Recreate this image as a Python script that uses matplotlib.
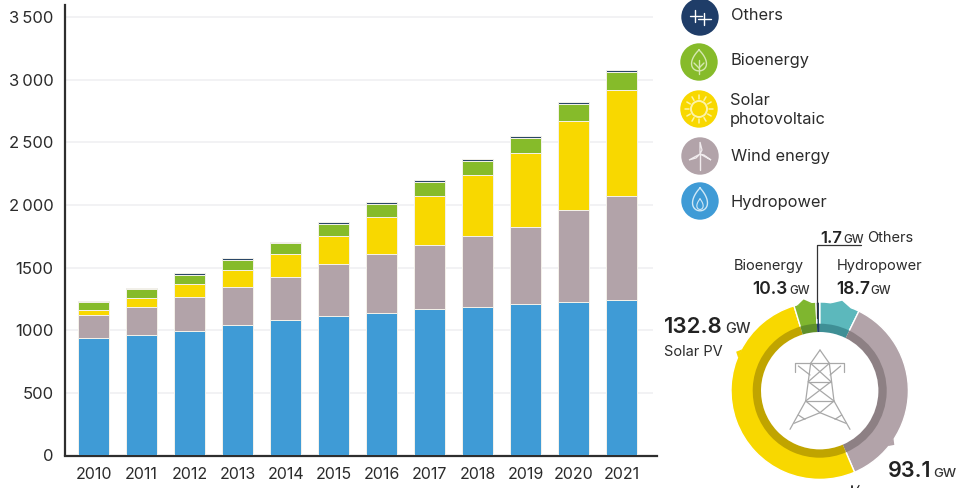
"""
Global renewable capacity by technology, 2010-2021, with 2021 additions ring.
Saves to out.png.
"""

import numpy as np
import matplotlib
matplotlib.use("Agg")
import matplotlib.pyplot as plt
from matplotlib.patches import Circle, Polygon, Wedge

plt.rcParams["font.family"] = ["Inter", "DejaVu Sans"]

# ── Data ──────────────────────────────────────────────────────────────────────

years = ["2010", "2011", "2012", "2013", "2014", "2015",
         "2016", "2017", "2018", "2019", "2020", "2021"]

hydro = [937, 963, 995, 1041, 1078, 1110, 1140, 1165, 1185, 1205, 1225, 1240]
wind  = [181, 221, 267, 300, 349, 418, 467, 515, 567, 621, 731, 831]
solar = [43, 70, 104, 136, 181, 224, 296, 391, 484, 588, 716, 847]
bio   = [63, 74, 72, 85, 85, 93, 106, 109, 117, 120, 131, 141]
other = [8, 8, 18, 16, 13, 16, 17, 16, 16, 19, 19, 21]

y_ticks  = [0, 500, 1000, 1500, 2000, 2500, 3000, 3500]
y_labels = ["0", "500", "1000", "1500", "2\u2009000", "2\u2009500", "3\u2009000", "3\u2009500"]

ring_names  = ["Hydropower", "Wind energy", "Solar PV", "Bioenergy", "Others"]
ring_values = [18.7, 93.1, 132.8, 10.3, 1.7]

# ── Colours ───────────────────────────────────────────────────────────────────

C_HYDRO = "#3f9bd6"
C_WIND  = "#b2a3a9"
C_SOLAR = "#f8d800"
C_BIO   = "#86bb2a"
C_OTHER = "#2a4768"
C_TEXT  = "#2b2b2b"

RING_OUTER = ["#5cb8bc", C_WIND, C_SOLAR, "#7fb62f", C_OTHER]
RING_INNER = ["#3f8f95", "#8d8084", "#c0a400", "#5f8f2a", "#1f3d68"]

W, H = 964, 488

fig = plt.figure(figsize=(W / 100, H / 100), dpi=100, facecolor="white")

# ── Stacked bars ──────────────────────────────────────────────────────────────

AX_L, AX_R, AX_T, AX_B = 64.5, 657.5, 5, 455.3
ax = fig.add_axes([AX_L / W, 1 - AX_B / H, (AX_R - AX_L) / W, (AX_B - AX_T) / H])
ax.set_xlim(-0.608, 11.75)
ax.set_ylim(0, 3597)

x = np.arange(len(years))
bottom = np.zeros(len(years))
for vals, col in [(hydro, C_HYDRO), (wind, C_WIND), (solar, C_SOLAR), (bio, C_BIO), (other, C_OTHER)]:
    ax.bar(x, vals, bottom=bottom, width=0.64, color=col, edgecolor="#f4f2ea",
           linewidth=0.7, zorder=3)
    bottom += np.array(vals)

ax.hlines(y_ticks[1:], -0.57, 11.65, color="#efeff1", linewidth=1.1, zorder=0)

ax.set_yticks(y_ticks)
ax.set_yticklabels(y_labels)
ax.set_xticks(x)
ax.set_xticklabels(years)
ax.tick_params(axis="both", length=0, labelcolor=C_TEXT)
ax.tick_params(axis="y", pad=8, labelsize=12)
ax.tick_params(axis="x", pad=8, labelsize=11.5)
for s in ["top", "right"]:
    ax.spines[s].set_visible(False)
for s in ["left", "bottom"]:
    ax.spines[s].set_color("#2e2e2e")
    ax.spines[s].set_linewidth(1.6)
ax.spines["bottom"].set_position(("outward", 0.5))

# ── Overlay in pixel coordinates for legend and ring ─────────────────────────

ov = fig.add_axes([0, 0, 1, 1], facecolor="none")
ov.set_xlim(0, W)
ov.set_ylim(H, 0)
ov.axis("off")


def seg(xs, ys, color="white", lw=1.0, z=6):
    ov.plot(xs, ys, color=color, lw=lw, solid_capstyle="round", zorder=z)


def icon_others(cx, cy):
    seg([cx - 10, cx + 2], [cy - 1, cy - 1])
    seg([cx - 5, cx - 5], [cy - 7, cy + 5])
    seg([cx - 2, cx + 11], [cy + 2, cy + 2])
    seg([cx + 4, cx + 4], [cy - 4, cy + 8])


def icon_leaf(cx, cy):
    t = np.linspace(0, 2 * np.pi, 80)
    ov.plot(cx + 9.5 * np.sin(t) * np.sin(t / 2) ** 0.9,
            cy - 12 + 22 * np.sin(t / 2) ** 2 * 0.95,
            color="#d5e8b0", lw=1, zorder=6)
    seg([cx, cx], [cy - 2, cy + 12], "#d5e8b0")
    seg([cx - 5, cx], [cy + 1, cy + 6], "#d5e8b0")
    seg([cx + 5, cx], [cy + 1, cy + 6], "#d5e8b0")


def icon_sun(cx, cy):
    ov.add_patch(Circle((cx, cy), 8, fc="none", ec="#fdf3a8", lw=1.4, zorder=6))
    for a in np.arange(0, 360, 30):
        r = np.radians(a)
        seg([cx + 10 * np.cos(r), cx + 14 * np.cos(r)],
            [cy + 10 * np.sin(r), cy + 14 * np.sin(r)], "#fdf3a8", 1.1)


def icon_wind(cx, cy):
    hub = (cx, cy - 2)
    seg([hub[0], hub[0]], [hub[1], cy + 14], "#f1ecee")
    for tip, side in [((cx, cy - 14), (cx + 2, cy - 6)),
                      ((cx - 11, cy + 4), (cx - 4, cy + 2)),
                      ((cx + 11, cy + 4), (cx + 4, cy - 1))]:
        ov.add_patch(Polygon([hub, side, tip], closed=True, fc="none",
                             ec="#f1ecee", lw=0.9, zorder=6))


def icon_drop(cx, cy):
    t = np.linspace(0, 2 * np.pi, 80)
    ov.plot(cx + 9.5 * np.sin(t) * np.sin(t / 2) ** 0.9,
            cy - 13 + 24 * np.sin(t / 2) ** 2 * 0.95,
            color="#cfe8f6", lw=1, zorder=6)
    ov.plot(cx + 4 * np.sin(t) * np.sin(t / 2) ** 0.9,
            cy - 2 + 11 * np.sin(t / 2) ** 2 * 0.95,
            color="#cfe8f6", lw=0.8, zorder=6)


legend_rows = [
    (700, 17, C_OTHER, "Others", 731, 15, icon_others),
    (699, 62, C_BIO, "Bioenergy", 730, 61, icon_leaf),
    (699, 109, C_SOLAR, "Solar\nphotovoltaic", 730, 110, icon_sun),
    (700, 156, C_WIND, "Wind energy", 731, 157, icon_wind),
    (700, 201, C_HYDRO, "Hydropower", 731, 202, icon_drop),
]
for cx, cy, col, name, tx, ty, icon in legend_rows:
    disc = "#1f3d68" if col == C_OTHER else col
    ov.add_patch(Circle((cx, cy), 18.7, fc=disc, ec="none", zorder=5))
    icon(cx, cy)
    ov.text(tx, ty, name, fontsize=11.8, color=C_TEXT, va="center", ha="left", linespacing=1.3)

# ring drawn clockwise from twelve o'clock in GW shares
RX, RY = 819.7, 390.7
R_OUT, R_MID, R_IN = 88.7, 67, 58.7
total = sum(ring_values)
ang = 0.0
for name, v, c_o, c_i in zip(ring_names, ring_values, RING_OUTER, RING_INNER):
    sweep = v / total * 360
    # y axis is flipped here, so Wedge angles run clockwise from +x
    th1, th2 = ang - 90, ang + sweep - 90
    ov.add_patch(Wedge((RX, RY), R_OUT, th1, th2, width=R_OUT - R_IN, fc=c_o,
                       ec="white", lw=1.0, zorder=4))
    ov.add_patch(Wedge((RX, RY), R_MID, th1, th2, width=R_MID - R_IN, fc=c_i,
                       ec="none", zorder=4.5))
    ang += sweep

# small flares around the outer edge of the ring
for a_deg, col, half, rise in [(295, C_SOLAR, 5, 3.5), (126, C_WIND, 5, 3.5),
                               (350, "#7fb62f", 8, 4), (14, "#5cb8bc", 11, 4)]:
    a = np.radians(a_deg)
    d = half / R_OUT
    ux = lambda b, r: RX + r * np.sin(b)
    uy = lambda b, r: RY - r * np.cos(b)
    ov.add_patch(Polygon([(ux(a - d, R_OUT - 1), uy(a - d, R_OUT - 1)),
                          (ux(a, R_OUT + rise), uy(a, R_OUT + rise)),
                          (ux(a + d, R_OUT - 1), uy(a + d, R_OUT - 1))],
                         closed=True, fc=col, ec="none", zorder=4))

# transmission tower in the centre of the ring, laid out on a 300 unit box
TW = "#a8a8a8"
tower = [
    [(150, 30), (122, 70), (107, 183), (60, 268)],
    [(150, 30), (178, 70), (192, 183), (240, 268)],
    [(75, 97), (75, 70), (222, 70), (222, 97)],
    [(85, 78), (120, 105)], [(212, 78), (180, 105)],
    [(122, 70), (183, 125)], [(178, 70), (115, 125)],
    [(115, 125), (183, 125)], [(115, 125), (192, 183)], [(183, 125), (107, 183)],
    [(107, 183), (192, 183)], [(107, 183), (150, 218)], [(192, 183), (150, 218)],
    [(150, 218), (72, 250)], [(150, 218), (228, 250)],
    [(85, 225), (105, 238)], [(215, 225), (195, 238)],
]
for path in tower:
    pts = np.array(path) / 3
    seg(770 + pts[:, 0], 340 + pts[:, 1], TW, 0.9, 6)

# connector from the thin Others slice up to its label
seg([817.4, 817.4, 861], [318, 245, 245], "#333333", 0.9, 7)

# short dark stubs at the lower edge, under the ring
seg([852, 852], [485.5, 489], "#222222", 1.3, 7)
seg([857, 859], [489, 485.5], "#222222", 0.9, 7)


def value_label(x0, y0, num, size, unit_x, unit_size):
    ov.text(x0, y0, num, fontsize=size, fontweight="semibold", color="#222222",
            va="baseline", ha="left", zorder=8)
    ov.text(unit_x, y0, "GW", fontsize=unit_size, fontweight="medium", color="#333333",
            va="baseline", ha="left", zorder=8)


value_label(820, 243, "1.7", 12, 843, 8.5)
value_label(752, 294, "10.3", 12.5, 789, 8.5)
value_label(836, 294, "18.7", 12.5, 870, 8.5)
value_label(664, 333, "132.8", 16, 725, 10.5)
value_label(888, 477, "93.1", 15.5, 933, 9.5)

ov.text(867, 238, "Others", fontsize=10.5, color=C_TEXT, va="center", ha="left")
ov.text(734, 266, "Bioenergy", fontsize=10.5, color=C_TEXT, va="center", ha="left")
ov.text(837, 266, "Hydropower", fontsize=10.5, color=C_TEXT, va="center", ha="left")
ov.text(664, 352, "Solar PV", fontsize=10.5, color=C_TEXT, va="center", ha="left")

fig.savefig("out.png", dpi=100, facecolor="white")
